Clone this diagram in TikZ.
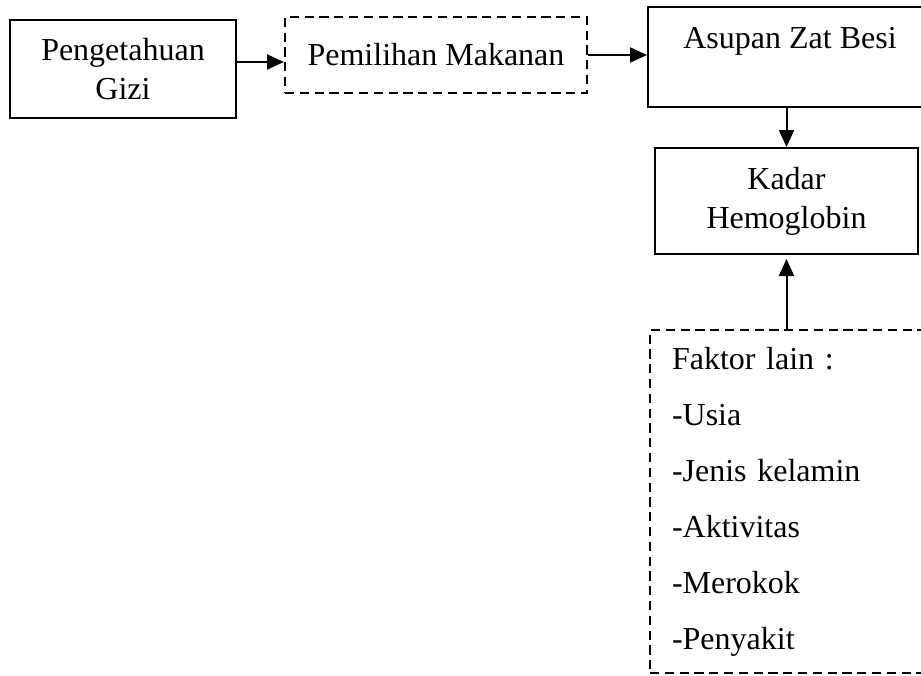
\documentclass[tikz,border=0pt]{standalone}
\usepackage{fontspec}
\setmainfont{Liberation Serif}
\usepackage{tikz}
\usetikzlibrary{arrows.meta}

\begin{document}
\begin{tikzpicture}[
  x=0.5pt, y=-0.5pt,
  box/.style={draw, line width=1pt, align=center, inner sep=2pt,
              font=\fontsize{16}{19.5}\selectfont},
  dashbox/.style={box, dash pattern=on 4.6pt off 2.8pt},
  arr/.style={line width=1pt, -{Triangle[length=8.5pt, width=7.5pt]}},
]
  \useasboundingbox (0,0) rectangle (921,675);
  \clip (0,0) rectangle (921,675);

  % Top row
  \node[box, minimum width=113pt, minimum height=49pt] (pengetahuan) at (123,69)
    {Pengetahuan\\Gizi};
  \node[dashbox, minimum width=151pt, minimum height=38pt] (pemilihan) at (436,55)
    {Pemilihan Makanan};
  \node[box, minimum width=142pt, minimum height=50pt] (asupan) at (790,57)
    {Asupan Zat Besi\\\mbox{}};

  % Right column
  \node[box, minimum width=131.5pt, minimum height=53pt] (kadar) at (786.5,201)
    {Kadar\\Hemoglobin};
  \node[dashbox, minimum width=142.5pt, minimum height=171.5pt,
        inner xsep=11pt, text width=120.5pt, align=left,
        font=\fontsize{16}{28}\selectfont] (faktor) at (792.5,501.5)
    {Faktor lain :\\-Usia\\-Jenis kelamin\\-Aktivitas\\-Merokok\\-Penyakit};

  % Connectors
  \draw[arr] ([yshift=3.5pt]pengetahuan.east) -- ([yshift=3.5pt]pengetahuan.east -| pemilihan.west);
  \draw[arr] (pemilihan.east) -- (pemilihan.east -| asupan.west);
  \draw[arr] (kadar.north |- asupan.south) -- (kadar.north);
  \draw[arr] (kadar.south |- faktor.north) -- ([yshift=-2pt]kadar.south);
\end{tikzpicture}
\end{document}
